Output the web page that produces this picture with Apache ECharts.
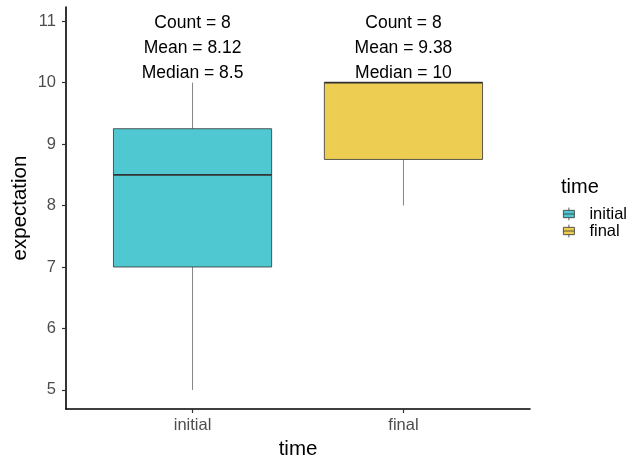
<!DOCTYPE html>
<html>
<head>
<meta charset="utf-8">
<script src="https://cdn.jsdelivr.net/npm/echarts@6/dist/echarts.min.js"></script>
<style>html,body{margin:0;padding:0;background:#fff;}#chart{width:644px;height:457px;}</style>
</head>
<body>
<div id="chart"></div>
<script>
// Data
const categories = ['initial', 'final'];
const categoryPositions = [1, 2];
const boxMin = [5, 8];
const boxQ1 = [7, 8.75];
const boxMedian = [8.5, 10];
const boxQ3 = [9.25, 10];
const boxMax = [10, 10];
const counts = [8, 8];
const means = ['8.12', '9.38'];
const medianLabels = ['8.5', '10'];
const colors = ['#4FC8D1', '#EDCD52'];
const yTicks = [5, 6, 7, 8, 9, 10, 11];
const annotationY = 10.56;

const FONT = '"Liberation Sans", Arial, sans-serif';
const chart = echarts.init(document.getElementById('chart'), null, {renderer: 'canvas'});

function boxRender(i) {
  return function (params, api) {
    const x = categoryPositions[i];
    const halfW = 0.375;
    const pMinL = api.coord([x - halfW, boxQ3[i]]);
    const pMaxR = api.coord([x + halfW, boxQ1[i]]);
    const med = api.coord([x, boxMedian[i]]);
    const top = api.coord([x, boxMax[i]]);
    const bot = api.coord([x, boxMin[i]]);
    const q3 = api.coord([x, boxQ3[i]]);
    const q1 = api.coord([x, boxQ1[i]]);
    const ann = api.coord([x, annotationY]);
    const children = [];
    children.push({type: 'line', shape: {x1: top[0], y1: top[1], x2: q3[0], y2: q3[1]}, style: {stroke: '#333', lineWidth: 0.6}});
    children.push({type: 'line', shape: {x1: q1[0], y1: q1[1], x2: bot[0], y2: bot[1]}, style: {stroke: '#333', lineWidth: 0.6}});
    children.push({type: 'rect', shape: {x: pMinL[0], y: pMinL[1], width: pMaxR[0] - pMinL[0], height: Math.max(pMaxR[1] - pMinL[1], 0)},
      style: {fill: colors[i], stroke: '#333', lineWidth: 0.8}});
    children.push({type: 'line', shape: {x1: pMinL[0], y1: med[1], x2: pMaxR[0], y2: med[1]}, style: {stroke: '#333', lineWidth: 1.8}});
    children.push({type: 'text', x: ann[0], y: ann[1], style: {
      text: 'Count = ' + counts[i] + '\nMean = ' + means[i] + '\nMedian = ' + medianLabels[i],
      align: 'center', verticalAlign: 'middle', fill: '#000', font: '17.5px ' + FONT, lineHeight: 25.3}});
    return {type: 'group', children: children};
  };
}

const legendIcon = 'path://M0,3 L12,3 L12,11 L0,11 Z M0,7 L12,7 M6,0 L6,3 M6,11 L6,14';

chart.setOption({
  animation: false,
  backgroundColor: '#fff',
  grid: {left: 66, right: 114, top: 7, bottom: 48, containLabel: false, outerBoundsMode: 'none'},
  xAxis: {
    type: 'value', min: 0.4, max: 2.6,
    splitLine: {show: false},
    axisLine: {show: true, lineStyle: {color: '#000', width: 1.6}},
    axisTick: {show: true, length: 4, lineStyle: {color: '#333', width: 1.2}, customValues: categoryPositions},
    axisLabel: {show: true, customValues: categoryPositions, color: '#4D4D4D', fontSize: 16.5, fontFamily: FONT, margin: 8,
      formatter: function (v) { const k = categoryPositions.indexOf(Math.round(v)); return k >= 0 ? categories[k] : ''; }},
    name: 'time', nameLocation: 'middle', nameGap: 27,
    nameTextStyle: {color: '#000', fontSize: 20.5, fontFamily: FONT}
  },
  yAxis: {
    type: 'value', min: 4.69, max: 11.23,
    splitLine: {show: false},
    axisLine: {show: true, lineStyle: {color: '#000', width: 1.6}},
    axisTick: {show: true, length: 4, lineStyle: {color: '#333', width: 1.2}, customValues: yTicks},
    axisLabel: {show: true, customValues: yTicks, color: '#4D4D4D', fontSize: 16.5, fontFamily: FONT, margin: 10},
    name: 'expectation', nameLocation: 'middle', nameGap: 35, nameRotate: 90, nameMoveOverlap: false,
    nameTextStyle: {color: '#000', fontSize: 20.5, fontFamily: FONT}
  },
  title: {text: 'time', left: 561, top: 177, padding: 0, textStyle: {color: '#000', fontSize: 20, fontWeight: 'normal', fontFamily: FONT}},
  legend: {
    orient: 'vertical', left: 563, top: 205.5, padding: 0, itemWidth: 11, itemHeight: 13, itemGap: 0,
    icon: legendIcon,
    itemStyle: {borderColor: '#333', borderWidth: 0.8},
    textStyle: {color: '#000', fontSize: 16.5, fontFamily: FONT, lineHeight: 17, padding: [0, 0, 0, 10]},
    data: categories.map(function (c, i) { return {name: c, itemStyle: {color: colors[i]}}; })
  },
  series: categories.map(function (c, i) {
    return {
      name: c, type: 'custom', renderItem: boxRender(i),
      itemStyle: {color: colors[i]},
      data: [[categoryPositions[i], boxMedian[i]]],
      clip: false
    };
  })
});
</script>
</body>
</html>
